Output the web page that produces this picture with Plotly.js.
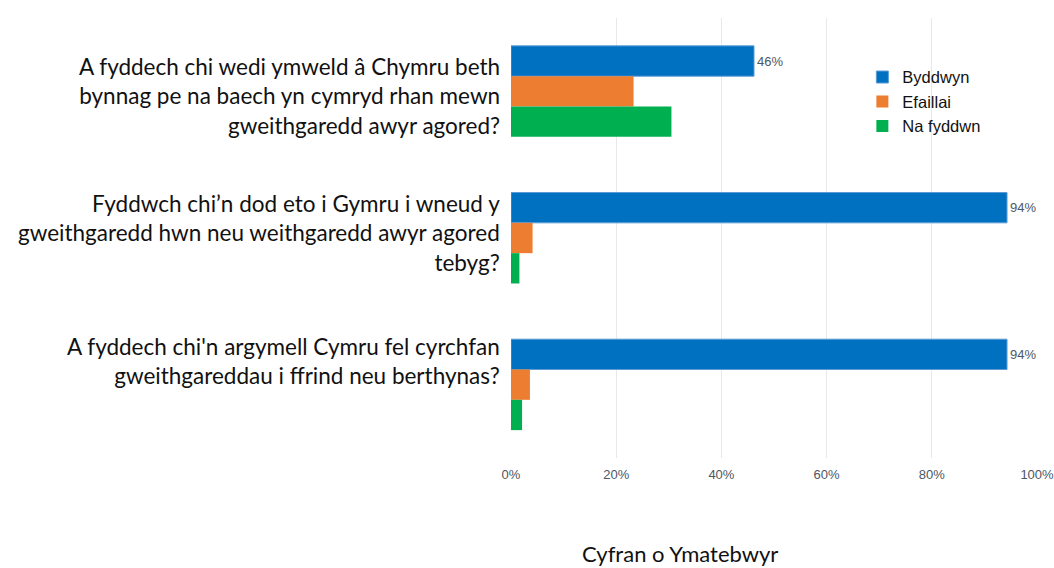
<!DOCTYPE html>
<html>
<head>
<meta charset="utf-8">
<script src="https://cdn.plot.ly/plotly-3.0.1.min.js"></script>
<style>html,body{margin:0;padding:0;background:#fff;}#chart{width:1054px;height:568px;}</style>
</head>
<body>
<div id="chart"></div>
<script>
const categories = [
  "A fyddech chi wedi ymweld â Chymru beth<br>bynnag pe na baech yn cymryd rhan mewn<br>gweithgaredd awyr agored?",
  "Fyddwch chi’n dod eto i Gymru i wneud y<br>gweithgaredd hwn neu weithgaredd awyr agored<br>tebyg?",
  "A fyddech chi'n argymell Cymru fel cyrchfan<br>gweithgareddau i ffrind neu berthynas?"
];
const catKeys = ["q1", "q2", "q3"];
const seriesNames = ["Byddwyn", "Efaillai", "Na fyddwn"];
const byddwyn = [46.2, 94.3, 94.3];
const efaillai = [23.3, 4.1, 3.6];
const naFyddwn = [30.5, 1.6, 2.1];
const tickVals = [0, 20, 40, 60, 80, 100];
const tickText = ["0%", "20%", "40%", "60%", "80%", "100%"];
const axisTitle = "Cyfran o Ymatebwyr";

const colors = ["#0070C0", "#ED7D31", "#00B050"];
const values = [byddwyn, efaillai, naFyddwn];
const labelFont = {family: "Lato, 'Open Sans', sans-serif", size: 22.5, color: "#111"};

const traces = values.map((v, i) => ({
  type: "bar",
  orientation: "h",
  name: seriesNames[i],
  y: catKeys,
  x: v,
  legendgroup: "g" + i,
  marker: {color: colors[i], line: {color: i === 0 ? "#5b9bd5" : colors[i], width: i === 0 ? 1 : 0}},
  text: i === 0 ? v.map(x => Math.round(x) + "%") : null,
  textposition: i === 0 ? "outside" : "none",
  textfont: {family: "Arial, 'Liberation Sans', sans-serif", size: 13, color: "#4d5663"},
  cliponaxis: false,
  hoverinfo: "x+name"
}));

const shifts = [-5, 5, 24];
const annotations = categories.map((c, i) => ({
  xref: "paper", yref: "y", x: 0, y: catKeys[i],
  xanchor: "right", yanchor: "middle", xshift: -9, yshift: shifts[i],
  text: c, align: "right", showarrow: false, font: labelFont
}));
annotations.push({
  xref: "paper", yref: "paper", x: 0.321, y: 0, yshift: -95,
  xanchor: "center", yanchor: "middle", text: axisTitle, showarrow: false,
  font: {family: "Lato, 'Open Sans', sans-serif", size: 22, color: "#111"}
});

const layout = {
  width: 1054, height: 568,
  margin: {l: 511, r: 17, t: 18, b: 110},
  paper_bgcolor: "#fff", plot_bgcolor: "#fff",
  barmode: "group", bargap: 0.38, bargroupgap: 0,
  showlegend: true,
  legend: {x: 0.668, y: 0.905, xanchor: "left", yanchor: "top", tracegroupgap: 0,
           font: {family: "Arial, 'Liberation Sans', sans-serif", size: 16.5, color: "#111"},
           bgcolor: "rgba(0,0,0,0)"},
  xaxis: {range: [0, 100], tickvals: tickVals, ticktext: tickText, showgrid: true,
          gridcolor: "#e6e8ec", gridwidth: 1, zeroline: false, showline: false, ticks: "",
          ticklabelstandoff: 7, ticklabeloverflow: "allow",
          tickfont: {family: "Arial, 'Liberation Sans', sans-serif", size: 13, color: "#4d5663"}, fixedrange: true},
  yaxis: {autorange: "reversed", showticklabels: false, showgrid: false, zeroline: false, ticks: "", fixedrange: true},
  annotations: annotations
};

Plotly.newPlot("chart", traces, layout, {displayModeBar: false, staticPlot: true});
</script>
</body>
</html>
